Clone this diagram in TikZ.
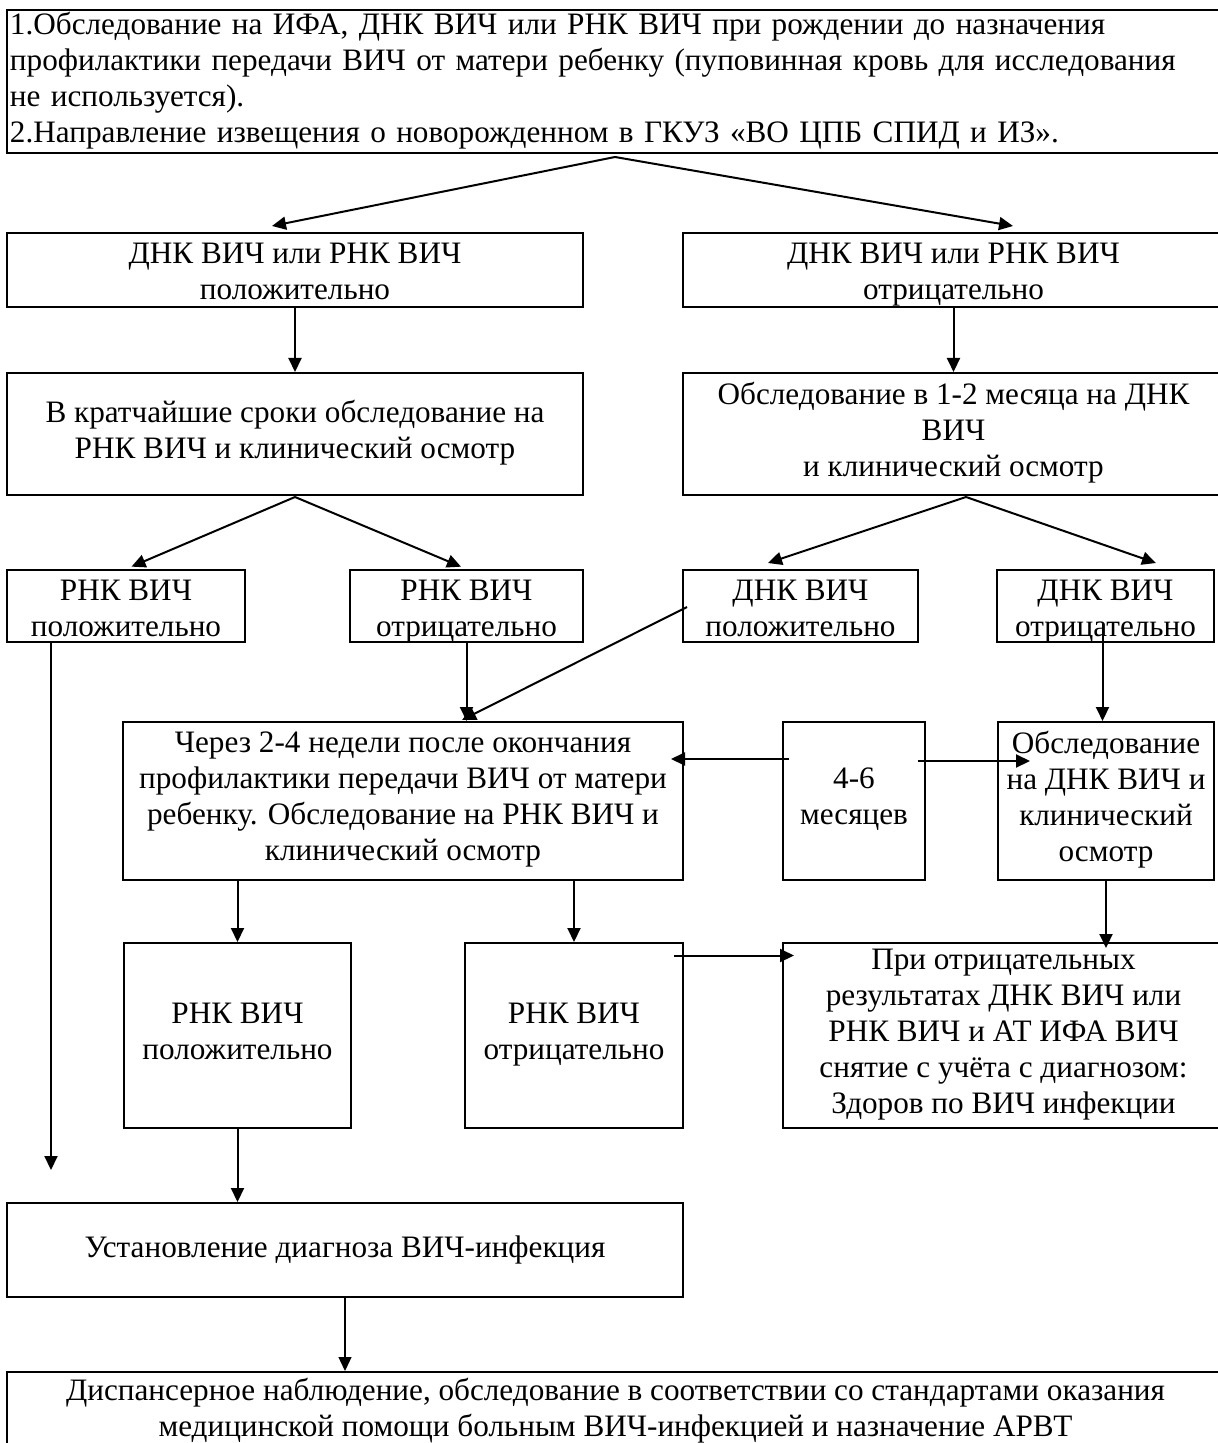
\documentclass[tikz,border=0pt]{standalone}
\usepackage{fontspec}
\setmainfont{Liberation Serif}
\usetikzlibrary{arrows.meta}

\newcommand\boxtopstrut{\rule{0pt}{12pt}}
\newcommand\boxbotstrut{\rule[-4.5pt]{0pt}{4.5pt}}

\tikzset{
  box/.style={draw, line width=1pt, align=center, inner xsep=1pt, inner ysep=0.5pt,
    execute at begin node=\boxtopstrut, execute at end node=\boxbotstrut},
  shortbox/.style={box, inner ysep=0pt, text depth=3pt,
    execute at begin node=\rule{0pt}{33pt}},
  arr/.style={-{Triangle[length=7pt,width=6.5pt]}, line width=1pt}
}

\begin{document}
\begin{tikzpicture}[x=0.5pt,y=-0.5pt,font=\fontsize{15.6}{18}\selectfont]

\useasboundingbox (0,0) rectangle (1217,1443);

% top
\node[box, align=left, text width=605.5pt, inner xsep=1.5pt, inner ysep=0pt, minimum height=71.5pt] (start) at (615.5,81.5)
  {1.Обследование на ИФА, ДНК ВИЧ или РНК ВИЧ при рождении до назначения\\
   профилактики передачи ВИЧ от матери ребенку (пуповинная кровь для исследования\\
   не используется).\\
   2.Направление извещения о новорожденном в ГКУЗ «ВО ЦПБ СПИД и ИЗ».};

% first results
\node[shortbox, minimum width=288pt, minimum height=37pt] (pos1) at (295,270) {ДНК ВИЧ или РНК ВИЧ\\положительно};
\node[shortbox, minimum width=270.5pt, minimum height=37pt] (neg1) at (953.5,270) {ДНК ВИЧ или РНК ВИЧ\\отрицательно};

\node[box, minimum width=288pt, minimum height=61pt] (rna1) at (295,434) {В кратчайшие сроки обследование на\\РНК ВИЧ и клинический осмотр};
\node[box, minimum width=270.5pt, minimum height=61pt] (dna1) at (953.5,434) {Обследование в 1-2 месяца на ДНК\\ВИЧ\\и клинический осмотр};

% second results
\node[shortbox, minimum width=119pt, minimum height=36pt] (rnaP) at (126,606) {РНК ВИЧ\\положительно};
\node[shortbox, minimum width=116.5pt, minimum height=36pt] (rnaN) at (466.5,606) {РНК ВИЧ\\отрицательно};
\node[shortbox, minimum width=117.5pt, minimum height=36pt] (dnaP) at (800.5,606) {ДНК ВИЧ\\положительно};
\node[shortbox, minimum width=108.5pt, minimum height=36pt] (dnaN) at (1105.5,606) {ДНК ВИЧ\\отрицательно};

% after prophylaxis
\node[box, minimum width=280pt, minimum height=79pt] (after) at (403,801)
  {Через 2-4 недели после окончания\\профилактики передачи ВИЧ от матери\\ребенку. Обследование на РНК ВИЧ и\\клинический осмотр};
\node[box, minimum width=71pt, minimum height=79pt] (months) at (854,801) {4-6\\месяцев};
\node[box, minimum width=108pt, minimum height=79pt] (exam) at (1106,801)
  {Обследование\\на ДНК ВИЧ и\\клинический\\осмотр};

% third results
\node[box, minimum width=113.5pt, minimum height=92.5pt] (rnaP2) at (237.5,1035.5) {РНК ВИЧ\\положительно};
\node[box, minimum width=109pt, minimum height=92.5pt] (rnaN2) at (574,1035.5) {РНК ВИЧ\\отрицательно};
\node[box, minimum width=220.5pt, minimum height=92.5pt] (healthy) at (1003.5,1035.5)
  {При отрицательных\\результатах ДНК ВИЧ или\\РНК ВИЧ и АТ ИФА ВИЧ\\снятие с учёта с диагнозом:\\Здоров по ВИЧ инфекции};

% diagnosis
\node[box, minimum width=338pt, minimum height=47pt] (diag) at (345,1250) {Установление диагноза ВИЧ-инфекция};
\node[box, minimum width=608.5pt, minimum height=40pt] (disp) at (615.5,1412)
  {Диспансерное наблюдение, обследование в соответствии со стандартами оказания\\медицинской помощи больным ВИЧ-инфекцией и назначение АРВТ};

% forks
\coordinate (fork0) at (615,157);
\coordinate (fork1) at (295,497);
\coordinate (fork2) at (966,497);
\coordinate (tip0a) at (272,226);
\coordinate (tip0b) at (1013,226);
\coordinate (tip2a) at (768,563);
\coordinate (tip2b) at (1156,563);
\coordinate (tipD) at (462,720);
\coordinate (lend) at (51,1170);

\draw[arr] (fork0) -- (tip0a);
\draw[arr] (fork0) -- (tip0b);
\draw[arr] (pos1) -- (rna1);
\draw[arr] (neg1) -- (dna1);

\draw[arr, shorten >=3pt] (fork1) -- (rnaP.north);
\draw[arr, shorten >=3pt] (fork1) -- (rnaN.north);
\draw[arr] (fork2) -- (tip2a);
\draw[arr] (fork2) -- (tip2b);

\draw[arr] (rnaP.south -| lend) -- (lend);
\draw[arr] (rnaN.south) -- (rnaN.south |- after.north);
\draw[arr] ([shift={(5,1)}]dnaP.west) -- (tipD);
\draw[arr] ([shift={(-3,-19)}]dnaN.south) -- ([shift={(-3,0)}]dnaN.south |- exam.north);

\draw[arr] ([shift={(7,-42)}]months.west) -- ([shift={(-13,-42)}]after.east);
\draw[arr] ([shift={(-8,-40)}]months.east) -- ([shift={(33,-40)}]exam.west);

\draw[arr] (after.south -| rnaP2) -- (rnaP2.north);
\draw[arr] (after.south -| rnaN2) -- (rnaN2.north);
\draw[arr] ([shift={(-10,-80)}]rnaN2.east) -- ([shift={(12,-80)}]healthy.west);
\draw[arr, shorten >=-3pt] (exam.south) -- (exam.south |- healthy.north);

\draw[arr] (rnaP2.south) -- (rnaP2.south |- diag.north);
\draw[arr, line width=0.6pt] (diag.south) -- (diag.south |- disp.north);

\end{tikzpicture}
\end{document}
